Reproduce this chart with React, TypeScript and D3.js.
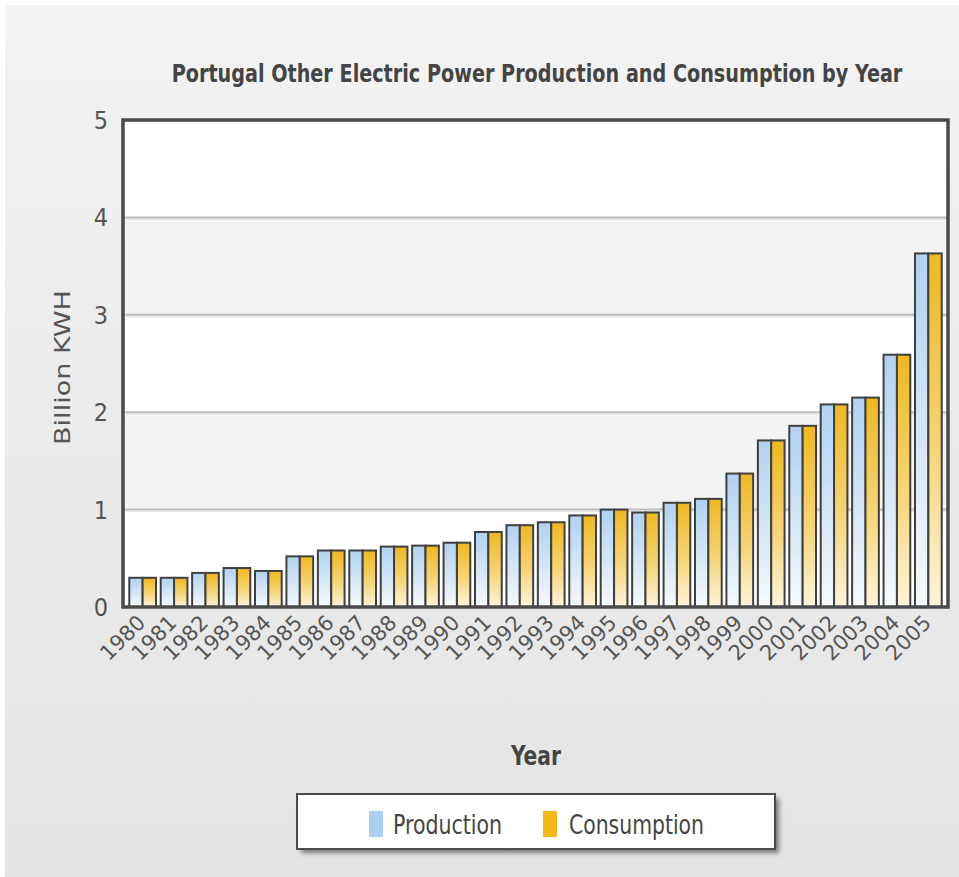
import React, { useLayoutEffect, useRef, useState } from "react";
import * as d3 from "d3";

const years = [
  "1980", "1981", "1982", "1983", "1984", "1985", "1986", "1987", "1988",
  "1989", "1990", "1991", "1992", "1993", "1994", "1995", "1996", "1997",
  "1998", "1999", "2000", "2001", "2002", "2003", "2004", "2005",
];
const production = [
  0.3, 0.3, 0.35, 0.4, 0.37, 0.52, 0.58, 0.58, 0.62, 0.63, 0.66, 0.77, 0.84,
  0.87, 0.94, 1.0, 0.97, 1.07, 1.11, 1.37, 1.71, 1.86, 2.08, 2.15, 2.59, 3.63,
];
const consumption = [
  0.3, 0.3, 0.35, 0.4, 0.37, 0.52, 0.58, 0.58, 0.62, 0.63, 0.66, 0.77, 0.84,
  0.87, 0.94, 1.0, 0.97, 1.07, 1.11, 1.37, 1.71, 1.86, 2.08, 2.15, 2.59, 3.63,
];
const yTicks = [0, 1, 2, 3, 4, 5];
const seriesNames = ["Production", "Consumption"];
const title = "Portugal Other Electric Power Production and Consumption by Year";

const W = 959;
const H = 877;
const plot = { left: 123, right: 948, top: 120, bottom: 607 };
const titleWidth = 731;

export default function App() {
  const titleRef = useRef<SVGTextElement>(null);
  const [titleScale, setTitleScale] = useState(1);

  // squeeze the title horizontally so it spans the intended width
  useLayoutEffect(() => {
    const el = titleRef.current;
    if (el) {
      const len = el.getComputedTextLength();
      if (len > 0) setTitleScale(titleWidth / len);
    }
  }, []);

  const x = d3
    .scaleBand<string>()
    .domain(years)
    .range([plot.left, plot.right])
    .paddingInner(0.15)
    .paddingOuter(0.2);
  const xs = d3
    .scaleBand<string>()
    .domain(seriesNames)
    .range([0, x.bandwidth()]);
  const y = d3.scaleLinear().domain([0, 5]).range([plot.bottom, plot.top]);

  const tickFont = "'DejaVu Sans', Verdana, sans-serif";
  const condFont = "'DejaVu Sans Condensed', 'DejaVu Sans', sans-serif";

  const bands = yTicks.slice(0, -1).map((t, i) => ({
    y0: y(t + 1),
    y1: y(t),
    fill: i % 2 === 0 ? "#ffffff" : "#f3f3f3",
  }));

  return (
    <svg
      width={W}
      height={H}
      style={{ position: "absolute", left: 0, top: 0, display: "block" }}
    >
      <defs>
        <linearGradient id="bgGrad" x1="0" y1="0" x2="0" y2="1">
          <stop offset="0" stopColor="#f3f3f3" />
          <stop offset="1" stopColor="#e4e4e4" />
        </linearGradient>
        <linearGradient id="prodGrad" x1="0" y1="0" x2="0" y2="1">
          <stop offset="0" stopColor="#b0d2f1" />
          <stop offset="0.55" stopColor="#d6e8f7" />
          <stop offset="1" stopColor="#f6fafd" />
        </linearGradient>
        <linearGradient id="consGrad" x1="0" y1="0" x2="0" y2="1">
          <stop offset="0" stopColor="#efb81e" />
          <stop offset="0.55" stopColor="#f6d577" />
          <stop offset="1" stopColor="#fdf4dc" />
        </linearGradient>
        <filter id="shadow" x="-10%" y="-30%" width="120%" height="160%">
          <feGaussianBlur stdDeviation="2.5" />
        </filter>
      </defs>

      {/* page background */}
      <rect x={0} y={0} width={W} height={H} fill="#ffffff" />
      <rect x={5} y={5} width={W - 5} height={H - 5} fill="url(#bgGrad)" />

      {/* title */}
      <g transform={`translate(537,82) scale(${titleScale},1)`}>
        <text
          ref={titleRef}
          x={0}
          y={0}
          textAnchor="middle"
          fontFamily={condFont}
          fontWeight="bold"
          fontSize={24}
          fill="#444"
        >
          {title}
        </text>
      </g>

      {/* alternating plot bands */}
      {bands.map((b, i) => (
        <rect
          key={i}
          x={plot.left}
          y={b.y0}
          width={plot.right - plot.left}
          height={b.y1 - b.y0}
          fill={b.fill}
        />
      ))}

      {/* grid lines */}
      {yTicks.slice(1, -1).map((t) => (
        <g key={t}>
          <line
            x1={plot.left}
            x2={plot.right}
            y1={y(t)}
            y2={y(t)}
            stroke="#bdbdbd"
            strokeWidth={2}
          />
          <line
            x1={plot.left}
            x2={plot.right}
            y1={y(t) + 2}
            y2={y(t) + 2}
            stroke="#e2e2e2"
            strokeWidth={1}
          />
        </g>
      ))}

      {/* bars */}
      {years.map((yr, i) => {
        const vals = [production[i], consumption[i]];
        return (
          <g key={yr} transform={`translate(${x(yr)},0)`}>
            {seriesNames.map((s, j) => (
              <rect
                key={s}
                x={xs(s)}
                y={y(vals[j])}
                width={xs.bandwidth()}
                height={y(0) - y(vals[j])}
                fill={j === 0 ? "url(#prodGrad)" : "url(#consGrad)"}
                stroke="#404040"
                strokeWidth={2}
              />
            ))}
          </g>
        );
      })}

      {/* plot frame */}
      <rect
        x={plot.left}
        y={plot.top}
        width={plot.right - plot.left}
        height={plot.bottom - plot.top}
        fill="none"
        stroke="#4a4a4a"
        strokeWidth={3.5}
      />

      {/* y tick labels */}
      {yTicks.map((t) => (
        <text
          key={t}
          x={108}
          y={y(t) + 9}
          textAnchor="end"
          fontFamily={condFont}
          fontSize={25}
          fill="#555"
        >
          {t}
        </text>
      ))}

      {/* x tick labels */}
      {years.map((yr) => {
        const cx = (x(yr) as number) + x.bandwidth() / 2 + 4;
        const cy = plot.bottom + 17;
        return (
          <text
            key={yr}
            transform={`translate(${cx},${cy}) rotate(-45)`}
            textAnchor="end"
            fontFamily={tickFont}
            fontSize={21}
            fill="#555"
          >
            {yr}
          </text>
        );
      })}

      {/* y axis title */}
      <text
        transform={`translate(70,${(plot.top + plot.bottom) / 2 + 4}) rotate(-90)`}
        textAnchor="middle"
        fontFamily={tickFont}
        fontSize={22}
        fill="#555"
        textLength={155}
        lengthAdjust="spacingAndGlyphs"
      >
        Billion KWH
      </text>

      {/* x axis title */}
      <text
        x={536}
        y={765}
        textAnchor="middle"
        fontFamily={condFont}
        fontWeight="bold"
        fontSize={26}
        fill="#444"
        textLength={50}
        lengthAdjust="spacingAndGlyphs"
      >
        Year
      </text>

      {/* legend */}
      <rect
        x={301}
        y={798}
        width={478}
        height={55}
        fill="#777"
        filter="url(#shadow)"
      />
      <rect
        x={297}
        y={794}
        width={478}
        height={55}
        fill="#ffffff"
        stroke="#4a4a4a"
        strokeWidth={2}
      />
      <rect x={369} y={811} width={14} height={26} fill="#a9d0f2" />
      <text
        x={393}
        y={834}
        fontFamily={condFont}
        fontSize={26}
        fill="#444"
        textLength={109}
        lengthAdjust="spacingAndGlyphs"
      >
        {seriesNames[0]}
      </text>
      <rect x={543} y={811} width={14} height={26} fill="#f3b71a" />
      <text
        x={569}
        y={834}
        fontFamily={condFont}
        fontSize={26}
        fill="#444"
        textLength={135}
        lengthAdjust="spacingAndGlyphs"
      >
        {seriesNames[1]}
      </text>
    </svg>
  );
}
